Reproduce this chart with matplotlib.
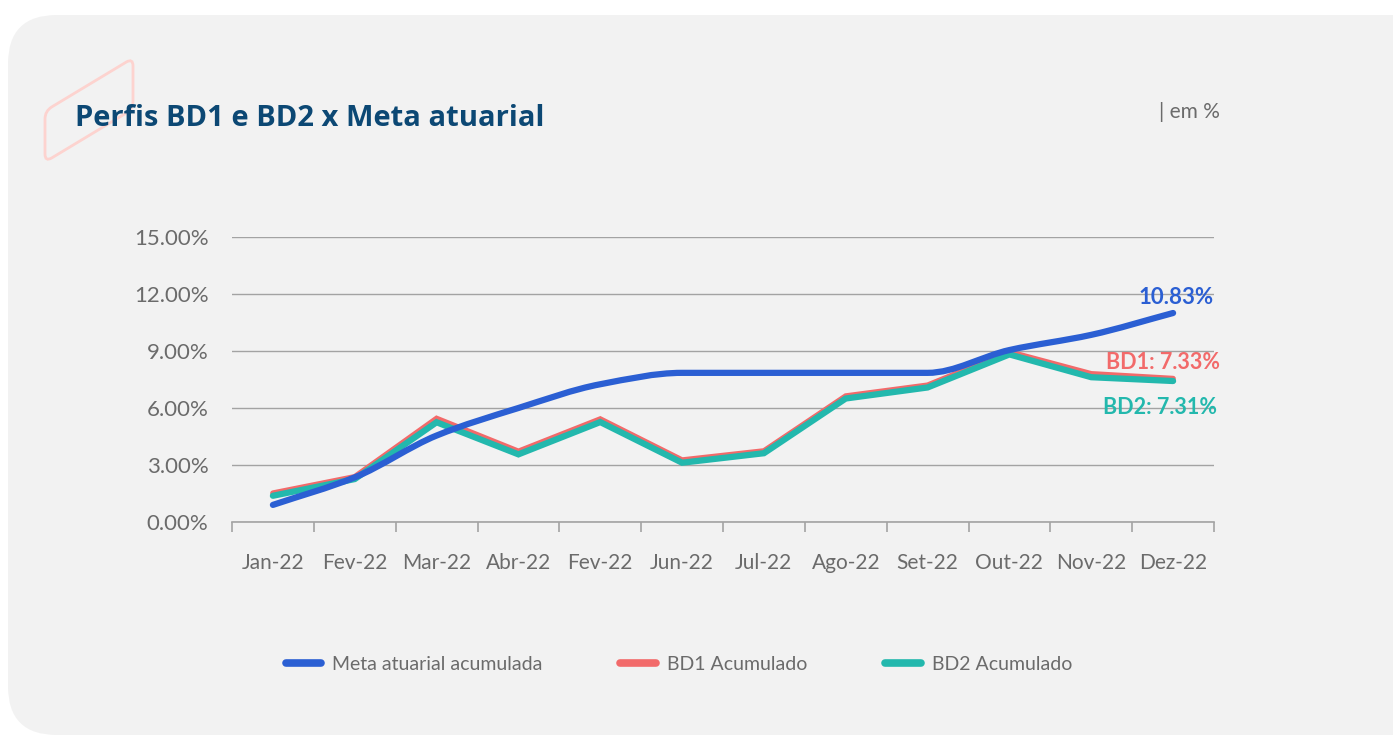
import matplotlib
matplotlib.use("Agg")
import matplotlib.pyplot as plt
from matplotlib.path import Path
from matplotlib.patches import PathPatch, FancyBboxPatch
from matplotlib.lines import Line2D
import numpy as np

months = ["Jan-22", "Fev-22", "Mar-22", "Abr-22", "Fev-22", "Jun-22",
          "Jul-22", "Ago-22", "Set-22", "Out-22", "Nov-22", "Dez-22"]
meta = [0.9, 2.35, 4.55, 6.0, 7.25, 7.85, 7.85, 7.85, 7.85, 9.05, 9.85, 11.0]
bd1 = [1.52, 2.38, 5.45, 3.72, 5.42, 3.26, 3.74, 6.63, 7.2, 8.95, 7.8, 7.55]
bd2 = [1.38, 2.26, 5.25, 3.56, 5.26, 3.12, 3.62, 6.5, 7.08, 8.82, 7.62, 7.42]
yticks = [0, 3, 6, 9, 12, 15]
labels_end = {"meta": "10.83%", "bd1": "BD1: 7.33%", "bd2": "BD2: 7.31%"}

C_META = "#2b5fd3"
C_BD1 = "#f26a6a"
C_BD2 = "#23b8ad"
C_TXT = "#6b6b6b"
C_GRID = "#a3a3a3"
FONT = "Lato"

W, H = 1393, 737
fig = plt.figure(figsize=(W / 100, H / 100), dpi=100)
fig.patch.set_facecolor("white")

# panel background
panel = FancyBboxPatch((8 / W, 2 / H), (W + 40) / W, 720 / H,
                       boxstyle="round,pad=0,rounding_size=0.035",
                       transform=fig.transFigure, facecolor="#f2f2f2",
                       edgecolor="none", zorder=0, mutation_aspect=W / H)
fig.add_artist(panel)


def rounded_poly(corners, r):
    P = [np.array(c, float) for c in corners]
    n = len(P)
    verts, codes = [], []
    for i in range(n):
        prev, cur, nxt = P[i - 1], P[i], P[(i + 1) % n]
        a = cur + (prev - cur) / np.linalg.norm(prev - cur) * r
        b = cur + (nxt - cur) / np.linalg.norm(nxt - cur) * r
        if i == 0:
            verts.append(a); codes.append(Path.MOVETO)
        else:
            verts.append(a); codes.append(Path.LINETO)
        verts += [cur, b]; codes += [Path.CURVE3, Path.CURVE3]
    verts.append(verts[0]); codes.append(Path.CLOSEPOLY)
    return Path([(x / W, 1 - y / H) for x, y in verts], codes)


deco = PathPatch(rounded_poly([(45, 111), (133, 58), (133, 109), (45, 162)], 8),
                 fill=False, edgecolor="#fdd3cf", linewidth=2,
                 transform=fig.transFigure, zorder=1)
fig.add_artist(deco)

fig.text(75 / W, 1 - 119 / H, "Perfis BD1 e BD2 x Meta atuarial", fontsize=21,
         fontweight="bold", color="#0c4874", family="Open Sans", va="center", ha="left", zorder=3)
fig.text(1220 / W, 1 - 112 / H, "| em %", fontsize=15, color=C_TXT, family=FONT,
         va="center", ha="right")

ax = fig.add_axes([232 / W, 1 - 522 / H, (1214 - 232) / W, (522 - 237) / H])
ax.set_facecolor("none")
x = np.arange(len(months))
ax.set_xlim(-0.5, len(months) - 0.5)
ax.set_ylim(0, 15)


def smooth_path(xs, ys):
    xs = np.asarray(xs, float)
    ys = np.asarray(ys, float)
    n = len(xs)
    h = np.diff(xs)
    d = np.diff(ys) / h
    m = np.zeros(n)
    m[0], m[-1] = d[0], d[-1]
    for k in range(1, n - 1):
        if d[k - 1] * d[k] <= 0:
            m[k] = 0
        else:
            m[k] = 2 / (1 / d[k - 1] + 1 / d[k])
    verts = [(xs[0], ys[0])]
    codes = [Path.MOVETO]
    for i in range(n - 1):
        verts += [(xs[i] + h[i] / 3, ys[i] + m[i] * h[i] / 3),
                  (xs[i + 1] - h[i] / 3, ys[i + 1] - m[i + 1] * h[i] / 3),
                  (xs[i + 1], ys[i + 1])]
        codes += [Path.CURVE4] * 3
    return Path(verts, codes)


ax.plot(x, bd1, color=C_BD1, lw=4, solid_capstyle="round", solid_joinstyle="miter", zorder=3)
ax.plot(x, bd2, color=C_BD2, lw=4.5, solid_capstyle="round", solid_joinstyle="miter", zorder=4)
ax.add_patch(PathPatch(smooth_path(x, meta), fill=False, edgecolor=C_META, lw=4.5,
                       capstyle="round", zorder=5))

# grid
ax.set_yticks(yticks)
ax.set_yticklabels([f"{v:.2f}%" for v in yticks], fontsize=16, color=C_TXT, family=FONT)
ax.yaxis.grid(True, color=C_GRID, lw=1)
ax.set_axisbelow(True)
ax.tick_params(axis="y", length=0, pad=17)

ax.set_xticks(x)
ax.set_xticklabels(months, fontsize=15, color=C_TXT, family=FONT)
ax.set_xticks(np.arange(-0.5, len(months)), minor=True)
ax.tick_params(axis="x", which="major", length=0, pad=22)
ax.tick_params(axis="x", which="minor", length=7, width=1.2, color=C_GRID, direction="out")

for s in ["top", "right", "left"]:
    ax.spines[s].set_visible(False)
ax.spines["bottom"].set_color(C_GRID)
ax.spines["bottom"].set_linewidth(1.2)

# end labels
ax.text(11.5, 11.84, labels_end["meta"], color=C_META, fontsize=16, fontweight="bold",
        family=FONT, ha="right", va="center", zorder=6, clip_on=False)
ax.text(11.57, 8.37, labels_end["bd1"], color=C_BD1, fontsize=15.5, fontweight="bold",
        family=FONT, ha="right", va="center", zorder=6, clip_on=False)
ax.text(11.54, 6.0, labels_end["bd2"], color=C_BD2, fontsize=15.5, fontweight="bold",
        family=FONT, ha="right", va="center", zorder=6, clip_on=False)

handles = [Line2D([], [], color=c, lw=5.5, solid_capstyle="round") for c in (C_META, C_BD1, C_BD2)]
leg = fig.legend(handles, ["Meta atuarial acumulada", "BD1 Acumulado", "BD2 Acumulado"],
                 loc="center left", bbox_to_anchor=(268 / W, 1 - 664 / H), ncol=3,
                 frameon=False, handlelength=1.85, handletextpad=0.55, columnspacing=4.0,
                 prop={"family": FONT, "size": 14})
for t in leg.get_texts():
    t.set_color(C_TXT)

fig.savefig("out.png", dpi=100, facecolor=fig.get_facecolor())
